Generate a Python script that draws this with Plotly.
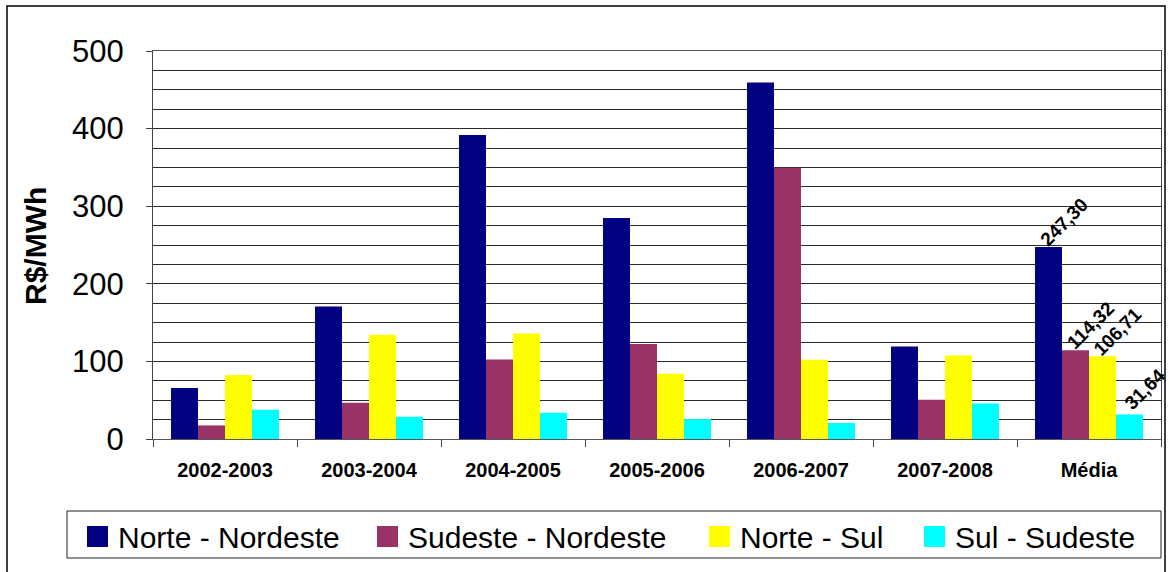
import plotly.graph_objects as go

# Transmission price differences between subsystems (R$/MWh)
periodos = ["2002-2003", "2003-2004", "2004-2005", "2005-2006", "2006-2007", "2007-2008", "Média"]

norte_nordeste = [65.6, 170.7, 391.6, 284.8, 459.5, 119.2, 247.30]
sudeste_nordeste = [17.5, 46.7, 102.4, 122.3, 349.5, 50.6, 114.32]
norte_sul = [82.4, 134.2, 135.9, 84.0, 102.0, 107.6, 106.71]
sul_sudeste = [37.7, 28.7, 33.8, 25.7, 20.6, 45.8, 31.64]

series = [
    ("Norte - Nordeste", norte_nordeste, "#000080"),
    ("Sudeste - Nordeste", sudeste_nordeste, "#993366"),
    ("Norte - Sul", norte_sul, "#FFFF00"),
    ("Sul - Sudeste", sul_sudeste, "#00FFFF"),
]

FONT = "Liberation Sans, Arial, sans-serif"

L, R, T, B = 153, 8, 51, 133
W, H = 1169, 572
pw = W - L - R
ph = H - T - B
GAP = 0.25
cat_px = pw / len(periodos)
bar_px = cat_px * (1 - GAP) / len(series)


def px_x(p):
    return (p - L) / pw


def px_y(p):
    return (H - B - p) / ph


fig = go.Figure()
for nome, valores, cor in series:
    fig.add_trace(go.Bar(
        name=nome,
        x=periodos,
        y=valores,
        marker=dict(color=cor, line=dict(width=0)),
        showlegend=False,
    ))

# rotated value labels on the average group, starting at each bar's top
annotations = []
for i, (nome, valores, cor) in enumerate(series):
    centro = (i - (len(series) - 1) / 2) * bar_px
    annotations.append(dict(
        x=periodos[-1], y=valores[-1], xref="x", yref="y",
        text="<b>" + f"{valores[-1]:.2f}".replace(".", ",") + "</b>",
        textangle=-45,
        xanchor="center", yanchor="middle",
        xshift=centro + 15, yshift=25,
        showarrow=False,
        font=dict(family=FONT, size=19, color="black"),
    ))

annotations.append(dict(
    text="<b>R$/MWh</b>",
    xref="paper", yref="paper",
    x=px_x(35), y=px_y(246),
    xanchor="center", yanchor="middle",
    textangle=-90,
    showarrow=False,
    font=dict(family=FONT, size=30, color="black"),
))

# legend: framed row of swatches and names below the axis
shapes = [
    dict(
        type="rect", xref="paper", yref="paper",
        x0=px_x(7), x1=px_x(1165), y0=px_y(600), y1=px_y(6),
        line=dict(color="black", width=1.5),
        fillcolor="rgba(0,0,0,0)", layer="below",
    ),
    dict(
        type="rect", xref="paper", yref="paper",
        x0=px_x(67), x1=px_x(1161), y0=px_y(558), y1=px_y(511),
        line=dict(color="#222222", width=1),
        fillcolor="white", layer="below",
    ),
]
legend_x = [87, 377, 709, 924]
for (nome, valores, cor), lx in zip(series, legend_x):
    shapes.append(dict(
        type="rect", xref="paper", yref="paper",
        x0=px_x(lx), x1=px_x(lx + 21), y0=px_y(547), y1=px_y(526),
        line=dict(width=0), fillcolor=cor, layer="above",
    ))
    annotations.append(dict(
        text=nome, xref="paper", yref="paper",
        x=px_x(lx + 29), y=px_y(537),
        xanchor="left", yanchor="middle",
        showarrow=False,
        font=dict(family=FONT, size=30, color="black"),
    ))

fig.update_layout(
    width=W,
    height=H,
    margin=dict(l=L, r=R, t=T, b=B, autoexpand=False),
    paper_bgcolor="white",
    plot_bgcolor="white",
    barmode="group",
    bargap=GAP,
    bargroupgap=0,
    font=dict(family=FONT, color="black"),
    showlegend=False,
    xaxis=dict(
        type="category",
        range=[-0.5, len(periodos) - 0.5],
        autorange=False,
        showline=True,
        linecolor="#555555",
        linewidth=1,
        mirror=True,
        ticks="outside",
        tickson="boundaries",
        ticklen=7,
        tickcolor="#444444",
        ticklabelstandoff=13,
        tickfont=dict(family=FONT, size=20, color="black", weight="bold"),
        showgrid=False,
    ),
    yaxis=dict(
        range=[0, 500],
        autorange=False,
        tickvals=[0, 100, 200, 300, 400, 500],
        showline=True,
        linecolor="#444444",
        linewidth=1,
        mirror=True,
        ticks="outside",
        ticklen=6,
        tickcolor="#444444",
        ticklabelstandoff=16,
        tickfont=dict(family=FONT, size=31, color="black"),
        showgrid=True,
        gridcolor="#2a2a2a",
        gridwidth=1,
        minor=dict(dtick=25, showgrid=True, gridcolor="#2a2a2a", gridwidth=1, ticks=""),
        zeroline=False,
    ),
    annotations=annotations,
    shapes=shapes,
)

fig.write_html("out.html")
